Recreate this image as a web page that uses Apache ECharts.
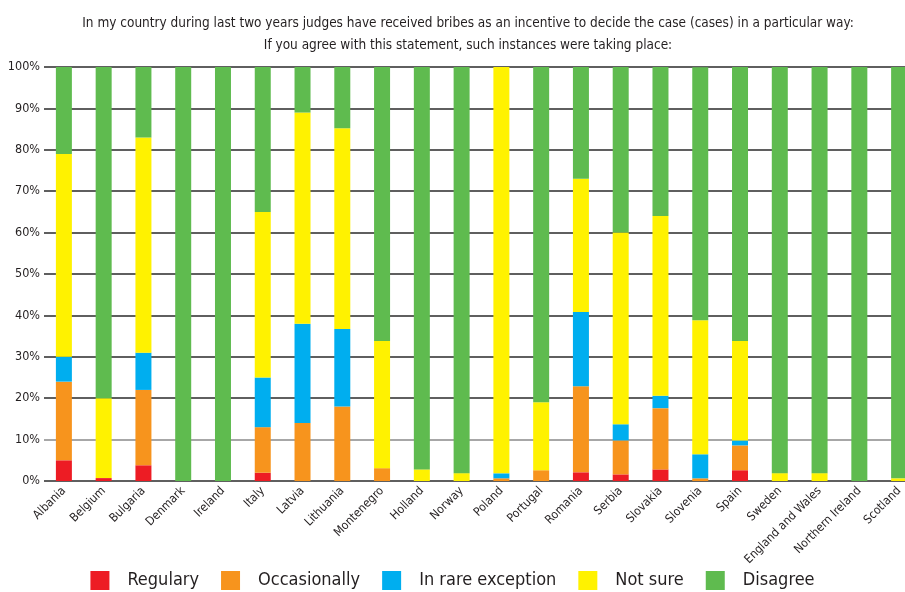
<!DOCTYPE html>
<html>
<head>
<meta charset="utf-8">
<script src="https://cdn.jsdelivr.net/npm/echarts@6/dist/echarts.min.js"></script>
<style>
  html, body { margin: 0; padding: 0; background: #fff; }
  #chart { width: 905px; height: 592px; }
</style>
</head>
<body>
<div id="chart"></div>
<script>
// countries on the x axis
var countries = ['Albania', 'Belgium', 'Bulgaria', 'Denmark', 'Ireland', 'Italy', 'Latvia', 'Lithuania',
  'Montenegro', 'Holland', 'Norway', 'Poland', 'Portugal', 'Romania', 'Serbia', 'Slovakia', 'Slovenia',
  'Spain', 'Sweden', 'England and Wales', 'Northern Ireland', 'Scotland']

// shares in %
var regulary     = [5, 0.7, 3.8, 0, 0, 2, 0, 0, 0, 0, 0, 0, 0, 2.1, 1.6, 2.8, 0, 2.6, 0, 0, 0, 0]
var occasionally = [19, 0, 18.2, 0, 0, 11, 14, 18, 3.1, 0, 0, 0.65, 2.6, 20.8, 8.2, 14.8, 0.65, 6, 0, 0, 0, 0]
var rareExcept   = [6, 0, 9, 0, 0, 12, 24, 18.7, 0, 0, 0, 1.2, 0, 17.9, 3.9, 3, 5.8, 1.2, 0, 0, 0, 0]
var notSure      = [49, 19.3, 52, 0, 0, 40, 51, 48.5, 30.7, 2.8, 1.9, 98.15, 16.4, 32.2, 46.3, 43.4, 32.4, 24, 1.9, 1.9, 0, 0.65]
var disagree     = [21, 80, 17, 100, 100, 35, 11, 14.8, 66.2, 97.2, 98.1, 0, 81, 27, 40, 36, 61.1, 66.2, 98.1, 98.1, 100, 99.35]

var seriesNames = ['Regulary', 'Occasionally', 'In rare exception', 'Not sure', 'Disagree']
var seriesColors = ['#ed1c24', '#f7941d', '#00aeef', '#fff200', '#5fbb4f']
var seriesData = [regulary, occasionally, rareExcept, notSure, disagree]

var yTicks = [0, 10, 20, 30, 40, 50, 60, 70, 80, 90, 100]

var narrow = "'Liberation Sans Narrow', 'DejaVu Sans Condensed', sans-serif"

var chart = echarts.init(document.getElementById('chart'))
chart.setOption({
  animation: false,
  title: {
    text: 'In my country during last two years judges have received bribes as an incentive to decide the case (cases) in a particular way:\nIf you agree with this statement, such instances were taking place:',
    left: 463,
    textAlign: 'center',
    top: 7,
    textStyle: {
      fontFamily: narrow,
      fontSize: 13.5,
      fontWeight: 'normal',
      color: '#231f20',
      lineHeight: 22
    }
  },
  legend: {
    data: seriesNames,
    left: 'center',
    top: 566,
    itemWidth: 19,
    itemHeight: 19,
    itemGap: 22,
    icon: 'rect',
    textStyle: {
      fontFamily: narrow,
      fontSize: 18,
      color: '#231f20',
      padding: [0, 0, 0, 13]
    }
  },
  grid: {
    left: 44,
    width: 875, // plot runs past the right edge of the canvas, like the original
    top: 67,
    bottom: 111,
    outerBoundsMode: 'none'
  },
  xAxis: {
    type: 'category',
    data: countries,
    axisLine: { show: false },
    axisTick: { show: false },
    axisLabel: {
      rotate: 45,
      interval: 0,
      margin: 8,
      fontFamily: narrow,
      fontSize: 12,
      color: '#231f20'
    }
  },
  yAxis: {
    type: 'value',
    min: yTicks[0],
    max: yTicks[yTicks.length - 1],
    interval: 10,
    axisLine: { show: false },
    axisTick: { show: false },
    axisLabel: {
      formatter: '{value}%',
      margin: 4,
      fontFamily: narrow,
      fontSize: 12.5,
      color: '#231f20'
    },
    splitLine: {
      lineStyle: {
        width: 1.5,
        color: ['#2a2a2a', '#8a8a8a', '#2a2a2a', '#2a2a2a', '#2a2a2a', '#2a2a2a', '#2a2a2a', '#2a2a2a', '#2a2a2a', '#2a2a2a', '#2a2a2a']
      }
    }
  },
  series: seriesNames.map(function (name, i) {
    return {
      name: name,
      type: 'bar',
      stack: 'total',
      barWidth: 16,
      itemStyle: { color: seriesColors[i] },
      data: seriesData[i]
    }
  })
})
</script>
</body>
</html>
